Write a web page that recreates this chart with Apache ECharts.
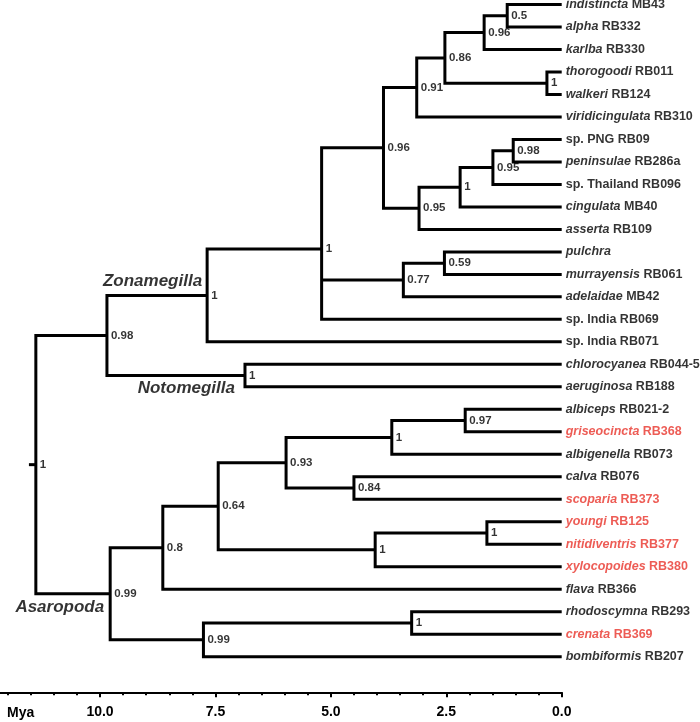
<!DOCTYPE html>
<html><head><meta charset="utf-8">
<script src="https://cdn.jsdelivr.net/npm/echarts@6/dist/echarts.min.js"></script>
<style>html,body{margin:0;padding:0;background:#fff}#c{width:700px;height:722px}</style>
</head><body><div id="c"></div>
<script>
// ---- data ----
const tipSpecies = ['indistincta','alpha','karlba','thorogoodi','walkeri','viridicingulata','','peninsulae','','cingulata','asserta','pulchra','murrayensis','adelaidae','','','chlorocyanea','aeruginosa','albiceps','griseocincta','albigenella','calva','scoparia','youngi','nitidiventris','xylocopoides','flava','rhodoscymna','crenata','bombiformis'];
const tipCodes = ['MB43','RB332','RB330','RB011','RB124','RB310','sp. PNG RB09','RB286a','sp. Thailand RB096','MB40','RB109','','RB061','MB42','sp. India RB069','sp. India RB071','RB044-5','RB188','RB021-2','RB368','RB073','RB076','RB373','RB125','RB377','RB380','RB366','RB293','RB369','RB207'];
const redTips = [19,22,23,24,25,28];
const nodeChildren = [
 ['T0','T1'],['N0','T2'],['T3','T4'],['N1','N2'],['N3','T5'],
 ['T6','T7'],['N5','T8'],['N6','T9'],['N7','T10'],['N4','N8'],
 ['T11','T12'],['N10','T13'],['N9','N11','T14'],['N12','T15'],['T16','T17'],
 ['N13','N14'],['T18','T19'],['N16','T20'],['T21','T22'],['N17','N18'],
 ['T23','T24'],['N20','T25'],['N19','N21'],['N22','T26'],['T27','T28'],
 ['N24','T29'],['N23','N25'],['N15','N26']
];
const nodeAges = [1.18,1.68,0.32,2.53,3.14,1.05,1.49,2.20,3.09,3.86,2.54,3.43,5.20,7.68,6.86,9.85,2.09,3.68,4.50,5.97,1.62,4.04,7.44,8.64,3.25,7.76,9.78,11.39];
const nodeSupport = ['0.5','0.96','1','0.86','0.91','0.98','0.95','1','0.95','0.96','0.59','0.77','1','1','1','0.98','0.97','1','0.84','0.93','1','1','0.64','0.8','1','0.99','0.99','1'];
const rootNode = 27;
const rootStemAge = 11.54;
const cladeNames = ['Zonamegilla','Notomegilla','Asaropoda'];
const cladeNodes = [13,14,26];
const axisName = 'Mya';

// ---- styles ----
const FONT = "'Liberation Sans', Arial, Helvetica, sans-serif";
const RED = '#e8332a';
const cladeLabelLayout = [ {distance:5, offset:[0,-14.5]}, {distance:10, offset:[0,12.7]}, {distance:6, offset:[0,14]} ];

// ---- tree geometry (in data units) ----
function ageOf(id){ return id[0]==='T' ? 0 : nodeAges[+id.slice(1)]; }
function yOf(id){
  if (id[0]==='T') return +id.slice(1);
  const ch = nodeChildren[+id.slice(1)];
  return ch.reduce((s,c)=>s+yOf(c),0)/ch.length;
}
const lineData = [];
nodeChildren.forEach((ch,k)=>{
  const a = nodeAges[k];
  const f = ch[0], l = ch[ch.length-1];
  lineData.push({coords:[[ageOf(f),yOf(f)],[a,yOf(f)],[a,yOf(l)],[ageOf(l),yOf(l)]]});
  for (let i=1;i<ch.length-1;i++){
    lineData.push({coords:[[a,yOf(ch[i])],[ageOf(ch[i]),yOf(ch[i])]]});
  }
});
const rootY = yOf('N'+rootNode);
lineData.push({coords:[[rootStemAge,rootY],[nodeAges[rootNode],rootY]]});

const tipData = tipCodes.map((c,i)=>{
  const red = redTips.includes(i);
  const s = tipSpecies[i];
  let txt = '';
  if (s) txt += '{' + (red?'spR':'sp') + '|' + s + '}';
  if (c) txt += (s?'{'+(red?'cdR':'cd')+'| '+c+'}':'{'+(red?'cdR':'cd')+'|'+c+'}');
  return {value:[0,i], label:{formatter:txt}};
});
const supData = nodeSupport.map((s,k)=>({value:[nodeAges[k], yOf('N'+k)], label:{formatter:s}}));
const cladeData = cladeNames.map((n,i)=>({value:[nodeAges[cladeNodes[i]], yOf('N'+cladeNodes[i])],
  label:{formatter:n, distance:cladeLabelLayout[i].distance, offset:cladeLabelLayout[i].offset}}));

const chart = echarts.init(document.getElementById('c'), null, {renderer:'canvas'});
const tipFont = {fontSize:12.5, fontWeight:'bold', fontFamily:FONT};
chart.setOption({
  animation:false,
  backgroundColor:'#fff',
  grid:{left:-15.4, right:138.3, top:4.5, bottom:65.3, containLabel:false, outerBoundsMode:'none'},
  xAxis:{type:'value', position:'bottom', inverse:true, min:0, max:12.5, interval:2.5, offset:35.6,
    axisLine:{onZero:false, lineStyle:{color:'#000', width:2}},
    axisTick:{length:5, lineStyle:{color:'#000', width:2}},
    minorTick:{show:true, splitNumber:5, length:3, lineStyle:{color:'#000', width:2}},
    splitLine:{show:false}, minorSplitLine:{show:false},
    axisLabel:{formatter:v=> v>12 ? '' : v.toFixed(1), color:'#000', fontWeight:'bold', fontSize:14, fontFamily:FONT, margin:13}
  },
  yAxis:{type:'value', inverse:true, min:0, max:29, show:false},
  graphic:[{type:'text', left:7, top:706, style:{text:axisName, fill:'#000', font:'bold 14px '+FONT}}],
  series:[
    {type:'lines', coordinateSystem:'cartesian2d', polyline:true, silent:true, clip:false,
     lineStyle:{color:'#000', width:3, opacity:1, join:'miter', cap:'butt'}, data:lineData},
    {type:'scatter', symbolSize:0, silent:true, clip:false, data:tipData,
     label:{show:true, position:'right', distance:4, color:'#000',
       rich:{sp:Object.assign({fontStyle:'italic', color:'#000'},tipFont), cd:Object.assign({color:'#000'},tipFont),
             spR:Object.assign({fontStyle:'italic', color:RED},tipFont), cdR:Object.assign({color:RED},tipFont)}}},
    {type:'scatter', symbolSize:0, silent:true, clip:false, data:supData,
     label:{show:true, position:'right', distance:4, color:'#000', fontWeight:'bold', fontSize:11.5, fontFamily:FONT}},
    {type:'scatter', symbolSize:0, silent:true, clip:false, data:cladeData,
     label:{show:true, position:'left', color:'#000', fontWeight:'bold', fontStyle:'italic', fontSize:17, fontFamily:FONT}}
  ]
});
</script></body></html>
